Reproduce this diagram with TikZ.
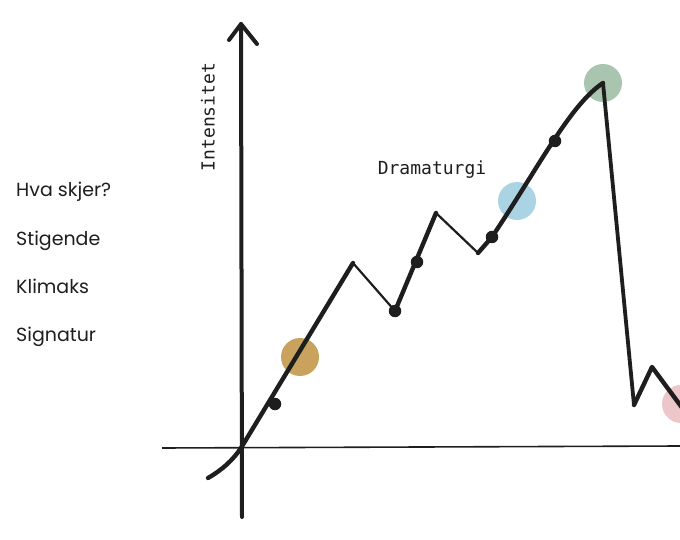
\documentclass[tikz,border=0pt]{standalone}
\usepackage{fontspec}
\setmainfont{Poppins}
\newfontfamily\monofont{DejaVu Sans Mono}
\definecolor{cgold}{HTML}{C9A25E}
\definecolor{cblue}{HTML}{AAD4E3}
\definecolor{cgreen}{HTML}{A9C4AF}
\definecolor{cpink}{HTML}{ECC6C8}
\definecolor{ink}{HTML}{1E1E1E}
\begin{document}
\begin{tikzpicture}[x=1pt,y=-1pt,
  thickline/.style={draw=ink,line width=4.4pt,line cap=round,line join=round},
  thinline/.style={draw=ink,line width=2.2pt,line cap=round,line join=round},
  axisline/.style={draw=ink,line width=4pt,line cap=round,line join=round},
  xaxisline/.style={draw=ink,line width=1.6pt},
  dotnode/.style={circle,fill=ink,inner sep=0pt,minimum size=12.5pt},
  blob/.style={circle,inner sep=0pt,minimum size=38pt},
  sidelabel/.style={anchor=base west,inner sep=0pt,font=\fontsize{19}{22}\selectfont,text=ink},
  monolabel/.style={inner sep=0pt,font=\monofont\fontsize{18}{21}\selectfont,text=ink}]
\useasboundingbox (0,0) rectangle (680,540);
\clip (0,0) rectangle (680,540);
% coloured circles
\node[blob,fill=cgold] (bgold) at (300,357) {};
\node[blob,fill=cblue] (bblue) at (517,201) {};
\node[blob,fill=cgreen] (bgreen) at (603,83) {};
\node[blob,fill=cpink] (bpink) at (681,404) {};
% axes
\coordinate (xl) at (162,448);
\coordinate (xr) at (680,446);
\draw[xaxisline] (xl) -- (xr);
\coordinate (yb) at (242,517);
\coordinate (yt) at (241,24);
\coordinate (al) at (229,40);
\coordinate (ar) at (257,44);
\draw[axisline] (yb) -- (yt);
\draw[axisline] (al) -- (yt) -- (ar);
% curve points
\coordinate (c0) at (208,478);
\coordinate (c1) at (241,448);
\coordinate (p1) at (353,263);
\coordinate (d1) at (395,311);
\coordinate (p2) at (436,213);
\coordinate (d2) at (478,253);
\coordinate (q1) at (492,237);
\coordinate (top) at (603,83);
\coordinate (low) at (634,405);
\coordinate (p3) at (652,367);
\coordinate (end) at (700,432);
\draw[thickline] (c0) .. controls (222,470) and (233,460) .. (c1) -- (p1);
\draw[thinline] (p1) -- (d1);
\draw[thickline] (d1) -- (p2);
\draw[thinline] (p2) -- (d2);
\draw[thickline] (d2) -- (q1) .. controls (540,165) and (570,105) .. (top);
\draw[thickline,line width=3.8pt] (top) -- (low);
\draw[thickline] (low) -- (p3) -- (end);
% dots
\node[dotnode] (k1) at (275,404) {};
\node[dotnode] (k2) at (395,311) {};
\node[dotnode] (k3) at (417,262) {};
\node[dotnode] (k4) at (492,237) {};
\node[dotnode] (k5) at (555,141) {};
% texts
\node[monolabel,rotate=90] (intens) at (208,117) {Intensitet};
\node[monolabel] (drama) at (432,170) {Dramaturgi};
\node[sidelabel] (l1) at (16,197) {Hva skjer?};
\node[sidelabel] (l2) at (16,245) {Stigende};
\node[sidelabel] (l3) at (16,293) {Klimaks};
\node[sidelabel] (l4) at (16,341) {Signatur};
\end{tikzpicture}
\end{document}
